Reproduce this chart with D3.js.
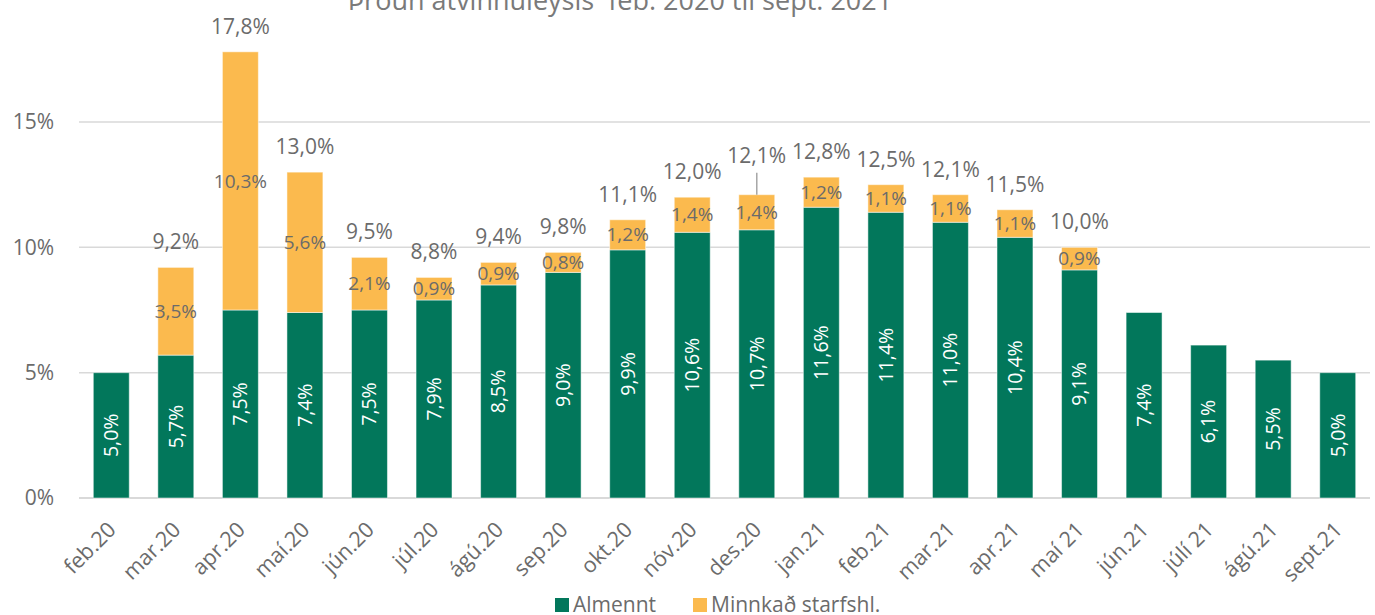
<!DOCTYPE html>
<html>
<head>
<meta charset="utf-8">
<script src="https://cdn.jsdelivr.net/npm/d3@7"></script>
<style>
    body { margin: 0; background: #fff; }
    text { font-family: "Open Sans", "Noto Sans", sans-serif; }
</style>
</head>
<body>
<div id="chart-area"></div>
<script>

// data
var months = ["feb.20","mar.20","apr.20","maí.20","jún.20","júl.20","ágú.20","sep.20","okt.20","nóv.20",
    "des.20","jan.21","feb.21","mar.21","apr.21","maí 21","jún.21","júlí 21","ágú.21","sept.21"];
var almennt = [5.0,5.7,7.5,7.4,7.5,7.9,8.5,9.0,9.9,10.6,10.7,11.6,11.4,11.0,10.4,9.1,7.4,6.1,5.5,5.0];
var minnkad = [0,3.5,10.3,5.6,2.1,0.9,0.9,0.8,1.2,1.4,1.4,1.2,1.1,1.1,1.1,0.9,0,0,0,0];
var totals = [null,9.2,17.8,13.0,9.5,8.8,9.4,9.8,11.1,12.0,12.1,12.8,12.5,12.1,11.5,10.0,null,null,null,null];
var yTicks = [0,5,10,15];
var seriesNames = ["Almennt","Minnkað starfshl."];
var title = "Þróun atvinnuleysis  feb. 2020 til sept. 2021";


Unemployment = function(_parentElement){
    this.parentElement = _parentElement;
    this.data = months.map(function(m, i) {
        return {month: m, Almennt: almennt[i], Minnkad: minnkad[i], total: totals[i]};
    });

    this.initVis();
}

Unemployment.prototype.initVis = function(){
    var vis = this;

    vis.width = 1375;
    vis.height = 615;

    vis.svg = d3.select("#" + vis.parentElement).append("svg")
        .attr("width", vis.width)
        .attr("height", vis.height);

    vis.green = "#02775b";
    vis.yellow = "#fbba4e";
    vis.grey = "#6b6b6b";

    vis.x = d3.scaleBand()
        .domain(months)
        .range([79, 1370])
        .paddingInner(0.443)
        .paddingOuter(0.2215);

    vis.y = d3.scaleLinear()
        .domain([0, 15])
        .range([498, 122]);

    // gridlines
    vis.svg.append("g")
        .selectAll("line")
        .data(yTicks)
        .enter().append("line")
        .attr("x1", 79)
        .attr("x2", 1370)
        .attr("y1", function(d) { return vis.y(d); })
        .attr("y2", function(d) { return vis.y(d); })
        .attr("stroke", "#d9d9d9")
        .attr("stroke-width", function(d) { return d === 0 ? 2 : 1.5; });

    vis.yAxis = d3.axisLeft(vis.y)
        .tickValues(yTicks)
        .tickSize(0)
        .tickPadding(0)
        .tickFormat(function(d) { return d + "%"; });

    vis.svg.append("g")
        .attr("class", "y-axis axis")
        .attr("transform", "translate(54,0)")
        .call(vis.yAxis)
        .call(function(g) { g.select(".domain").remove(); })
        .selectAll("text")
        .attr("font-size", 21)
        .attr("fill", vis.grey);

    vis.stack = d3.stack().keys(["Almennt", "Minnkad"]);
    vis.stackedData = vis.stack(vis.data);

    // title (cut by the top edge as in the original)
    vis.svg.append("text")
        .attr("x", 620)
        .attr("y", 10)
        .attr("text-anchor", "middle")
        .attr("font-size", 27)
        .attr("fill", "#7a7a7a")
        .style("white-space", "pre")
        .text(title);

    vis.updateVis();
}

Unemployment.prototype.fmt = function(v){
    return d3.format(".1f")(v).replace(".", ",") + "%";
}

Unemployment.prototype.updateVis = function(){
    var vis = this;
    var colors = [vis.green, vis.yellow];

    vis.groups = vis.svg.selectAll("g.layer")
        .data(vis.stackedData)
        .enter().append("g")
        .attr("class", "layer")
        .style("fill", function(d, i) { return colors[i]; });

    vis.groups.selectAll("rect")
        .data(function(d) { return d.filter(function(e) { return e[1] > e[0]; }); })
        .enter().append("rect")
        .attr("x", function(d) { return vis.x(d.data.month); })
        .attr("y", function(d) { return vis.y(d[1]); })
        .attr("height", function(d) { return vis.y(d[0]) - vis.y(d[1]); })
        .attr("width", vis.x.bandwidth())
        .attr("stroke", "rgba(255,255,255,0.5)")
        .attr("stroke-width", 1);

    var half = vis.x.bandwidth() / 2;

    // white labels inside green bars
    vis.svg.append("g").selectAll("text")
        .data(vis.data)
        .enter().append("text")
        .attr("transform", function(d) {
            return "translate(" + (vis.x(d.month) + half) + "," + vis.y(d.Almennt / 2) + ") rotate(-90)";
        })
        .attr("text-anchor", "middle")
        .attr("dy", "0.35em")
        .attr("font-size", 19.5)
        .attr("fill", "#fff")
        .text(function(d) { return vis.fmt(d.Almennt); });

    // labels in the yellow part
    var withPart = vis.data.filter(function(d) { return d.Minnkad > 0; });
    vis.svg.append("g").selectAll("text")
        .data(withPart)
        .enter().append("text")
        .attr("x", function(d) { return vis.x(d.month) + half; })
        .attr("y", function(d) { return vis.y(d.Almennt + d.Minnkad / 2); })
        .attr("dy", "0.35em")
        .attr("text-anchor", "middle")
        .attr("font-size", 19)
        .attr("fill", vis.grey)
        .text(function(d) { return vis.fmt(d.Minnkad); });

    // totals above the bars; des.20 is pushed up with a leader line
    var lift = function(d) { return d.month === "des.20" ? 39 : 25.5; };
    var withTotal = vis.data.filter(function(d) { return d.total !== null; });

    vis.svg.append("g").selectAll("text")
        .data(withTotal)
        .enter().append("text")
        .attr("x", function(d) { return vis.x(d.month) + half; })
        .attr("y", function(d) { return vis.y(d.Almennt + d.Minnkad) - lift(d); })
        .attr("dy", "0.35em")
        .attr("text-anchor", "middle")
        .attr("font-size", 21)
        .attr("fill", vis.grey)
        .text(function(d) { return vis.fmt(d.total); });

    var des = vis.data[months.indexOf("des.20")];
    vis.svg.append("line")
        .attr("x1", vis.x(des.month) + half)
        .attr("x2", vis.x(des.month) + half)
        .attr("y1", vis.y(des.Almennt + des.Minnkad) - 22)
        .attr("y2", vis.y(des.Almennt + des.Minnkad))
        .attr("stroke", "#a6a6a6")
        .attr("stroke-width", 1.5);

    // month labels, rotated
    vis.svg.append("g").selectAll("text")
        .data(months)
        .enter().append("text")
        .attr("transform", function(d) {
            return "translate(" + (vis.x(d) + half + 6) + ",531) rotate(-45)";
        })
        .attr("text-anchor", "end")
        .attr("font-size", 21.5)
        .attr("fill", vis.grey)
        .text(function(d) { return d; });

    // legend
    var legend = vis.svg.append("g").attr("class", "legend");
    var lx = [555, 693];
    seriesNames.forEach(function(name, i) {
        legend.append("rect")
            .attr("x", lx[i])
            .attr("y", 598)
            .attr("width", 14)
            .attr("height", 14)
            .attr("fill", colors[i]);
        legend.append("text")
            .attr("x", lx[i] + 18)
            .attr("y", 612)
            .attr("font-size", 21)
            .attr("fill", vis.grey)
            .text(name);
    });
}

new Unemployment("chart-area");

</script>
</body>
</html>
